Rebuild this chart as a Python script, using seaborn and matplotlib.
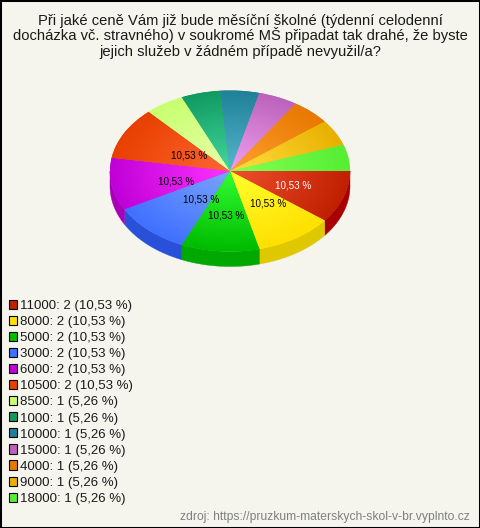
import numpy as np
import matplotlib
matplotlib.use("Agg")
import matplotlib.pyplot as plt
from matplotlib.patches import Rectangle, Polygon
from matplotlib.colors import to_rgb
import seaborn as sns

TITLE_LINES = ["Při jaké ceně Vám již bude měsíční školné (týdenní celodenní",
               "docházka vč. stravného) v soukromé MŠ připadat tak drahé, že byste",
               "jejich služeb v žádném případě nevyužil/a?"]
SOURCE = "zdroj: https://pruzkum-materskych-skol-v-br.vyplnto.cz"
categories = ["11000", "8000", "5000", "3000", "6000", "10500", "8500",
              "1000", "10000", "15000", "4000", "9000", "18000"]
counts = [2, 2, 2, 2, 2, 2, 1, 1, 1, 1, 1, 1, 1]
colors = ["#C02000", "#FFE000", "#00BB00", "#4070FF", "#C000D8", "#E84000", "#C8FF70",
          "#0F9A60", "#1F8098", "#BC62BC", "#E87800", "#E8B000", "#55EE33"]
center_colors = ["#F05030", "#FFFF30", "#33FF33", "#7CA4FF", "#FF33FF", "#FF6633", "#E8FFAA",
                 "#44D8A0", "#55B8CC", "#F0A0F0", "#FFA030", "#FFE040", "#88FF55"]
side_colors = ["#A80000", "#E0C800", "#00A800", "#2850D8", "#A800B8", "#C03000", "#A0D060",
               "#0C7A4C", "#186478", "#964E96", "#B86000", "#B88C00", "#44BE28"]

sns.set_theme(style="white")
plt.rcParams["font.family"] = ["Liberation Sans", "DejaVu Sans"]
BG = "#F5F5EE"
W, H = 480, 528
CX, CY, RX, RY, DEPTH = 230, 171, 120, 80.5, 15

fig = plt.figure(figsize=(W / 100, H / 100), dpi=100, facecolor=BG)
ax = fig.add_axes([0, 0, 1, 1])
ax.set_facecolor(BG)

def percent_label(p):
    return f"{p:.2f} %".replace(".", ",") if p > 8 else ""

wedges, _, autotexts = ax.pie(counts, colors=sns.color_palette(colors, len(colors)),
                              startangle=0, counterclock=False, radius=1,
                              autopct=percent_label, pctdistance=0.5,
                              wedgeprops=dict(linewidth=0, zorder=3),
                              textprops=dict(fontsize=7.1, color="black", zorder=6))
ax.set_aspect("auto")
ax.axis("on")
ax.set_xticks([]); ax.set_yticks([])
for s in ax.spines.values():
    s.set_visible(False)

# extruded rim: only the part of each wedge on the front half
for w, c in zip(wedges, side_colors):
    lo, hi = w.theta1, w.theta2
    while lo < 0:
        lo += 360; hi += 360
    lo2, hi2 = max(lo, 180), min(hi, 360)
    if hi2 <= lo2:
        continue
    t = np.radians(np.linspace(lo2, hi2, 40))
    x, y = np.cos(t), np.sin(t)
    d = DEPTH / RY
    pts = np.r_[np.c_[x, y], np.c_[x[::-1], y[::-1] - d]]
    ax.add_patch(Polygon(pts, closed=True, fc=c, ec=c, lw=0.3, zorder=2))

# each wedge of the top face fades from a light centre to its rim colour
yy, xx = np.mgrid[-1:1:400j, -1:1:400j]
rr = np.clip(np.hypot(xx, yy), 0, 1)[..., None]
for w, rim, mid in zip(wedges, colors, center_colors):
    img = np.array(to_rgb(mid)) * (1 - rr) + np.array(to_rgb(rim)) * rr
    im = ax.imshow(img, extent=(-1, 1, -1, 1), origin="lower", aspect="auto", zorder=4,
                   interpolation="bilinear")
    im.set_clip_path(w)

ax.set_xlim(-CX / RX, (W - CX) / RX)
ax.set_ylim((CY - H) / RY, CY / RY)

# label anchors (pixels)
label_px = [(293, 186), (268, 203), (226, 216), (201, 199), (176, 182), (189, 155)]
shown = [t for t in autotexts if t.get_text()]
for t, (px, py), col in zip(shown, label_px, ["white"] + ["black"] * 5):
    t.set_position(((px - CX) / RX, (CY - py) / RY))
    t.set_color(col)
    t.set_ha("center"); t.set_va("center")

for line, py in zip(TITLE_LINES, [25, 40, 56]):
    fig.text(240 / W, 1 - py / H, line, ha="center", va="baseline", fontsize=10.6, color="#1a1a1a")
fig.text(470 / W, 1 - 517 / H, SOURCE, ha="right", va="center", fontsize=8.76, color="#808080")

# legend
handles = [Rectangle((0, 0), 1, 1, fc=c, ec="black", lw=0.8) for c in colors]
labels = [f"{k}: {v} ({100 * v / sum(counts):.2f} %)".replace(".", ",")
          for k, v in zip(categories, counts)]
fig.legend(handles, labels, loc="upper left", bbox_to_anchor=(9 / W, 1 - 300 / H),
           frameon=False, fontsize=9.5, handlelength=0.6, handleheight=0.68,
           handletextpad=0.25, labelspacing=0.295, borderpad=0, borderaxespad=0,
           labelcolor="#1a1a1a")

# outer frame
fig.add_artist(Rectangle((0, 0), 1, 1, transform=fig.transFigure, fill=False,
                         ec="black", lw=2.2, zorder=20))

fig.savefig("out.png", dpi=100, facecolor=BG)
